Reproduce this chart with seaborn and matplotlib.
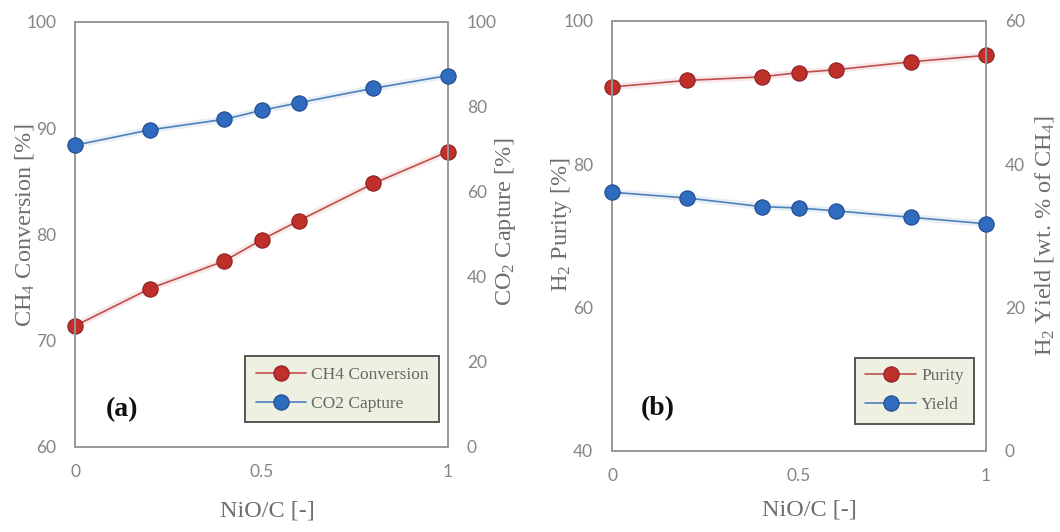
import matplotlib
matplotlib.use("Agg")
import matplotlib.pyplot as plt
import seaborn as sns
import pandas as pd

# values
nio_c = [0.0, 0.2, 0.4, 0.5, 0.6, 0.8, 1.0]
ch4_conversion = [71.4, 74.9, 77.5, 79.5, 81.3, 84.8, 87.8]
co2_capture = [71.0, 74.6, 77.1, 79.2, 81.0, 84.4, 87.4]
h2_purity = [90.8, 91.7, 92.2, 92.8, 93.2, 94.3, 95.2]
h2_yield = [36.1, 35.3, 34.1, 33.9, 33.5, 32.6, 31.7]

xticks = [0, 0.5, 1]
xtick_labels = ['0', '0.5', '1']
yticks_a_left = [60, 70, 80, 90, 100]
yticks_a_right = [0, 20, 40, 60, 80, 100]
yticks_b_left = [40, 60, 80, 100]
yticks_b_right = [0, 20, 40, 60]

df = pd.DataFrame({'x': nio_c, 'ch4': ch4_conversion, 'co2': co2_capture,
                   'purity': h2_purity, 'yield': h2_yield})

sns.set_style('white')
plt.rcParams['font.family'] = ['Liberation Serif', 'DejaVu Serif']
plt.rcParams['mathtext.default'] = 'regular'

RED_LINE, RED_FACE, RED_EDGE = '#c0504d', '#c0302a', '#8a2020'
BLUE_LINE, BLUE_FACE, BLUE_EDGE = '#4f81bd', '#2f6cc0', '#1f4a8a'
TICK_C = '#858585'
LABEL_C = '#6e6e6e'
SPINE_C = '#9a9a9a'
TICK_FONT = 'Lato'

fig = plt.figure(figsize=(10.6, 5.32), dpi=100)
ax_a = fig.add_axes([0.0708, 0.1598, 0.3519, 0.7989])
ax_b = fig.add_axes([0.5774, 0.1523, 0.3528, 0.8083])


def draw(ax, col, line_c, face_c, edge_c, label):
    # faint glow under the line, as in the source
    sns.lineplot(data=df, x='x', y=col, ax=ax, color=line_c, lw=5, alpha=0.12,
                 legend=False, clip_on=False)
    sns.lineplot(data=df, x='x', y=col, ax=ax, color=line_c, lw=1.2,
                 marker='o', markersize=11, markerfacecolor=face_c,
                 markeredgecolor=edge_c, markeredgewidth=0.8,
                 label=label, clip_on=False, zorder=5)


def style(ax, ylim, yticks):
    ax.set_xlim(0, 1)
    ax.set_ylim(*ylim)
    ax.set_yticks(yticks)
    ax.set_xticks(xticks)
    ax.set_xticklabels(xtick_labels)
    for s in ax.spines.values():
        s.set_color(SPINE_C)
        s.set_linewidth(1.3)
    ax.tick_params(length=0, labelsize=12.5, labelcolor=TICK_C)
    ax.tick_params(axis='y', pad=13.5)
    ax.tick_params(axis='x', pad=12)
    for t in ax.get_xticklabels() + ax.get_yticklabels():
        t.set_family(TICK_FONT)


def panel(ax, left_col, right_col, left_lim, right_lim, lt, rt,
          lbl_l, lbl_r, leg_l, leg_r, tag, tag_xy, leg_bbox, lab_pos):
    ax2 = ax.twinx()
    draw(ax, left_col, RED_LINE, RED_FACE, RED_EDGE, leg_l)
    draw(ax2, right_col, BLUE_LINE, BLUE_FACE, BLUE_EDGE, leg_r)
    style(ax, left_lim, lt)
    style(ax2, right_lim, rt)
    ax.set_xlabel('NiO/C [-]', fontsize=17.5, color=LABEL_C)
    ax.set_ylabel(lbl_l, fontsize=17.5, color=LABEL_C)
    ax2.set_ylabel(lbl_r, fontsize=17.5, color=LABEL_C)
    ax.xaxis.set_label_coords(*lab_pos[0])
    ax.yaxis.set_label_coords(*lab_pos[1])
    ax2.yaxis.set_label_coords(*lab_pos[2])
    ax2.set_xlabel('')
    h1, l1 = ax.get_legend_handles_labels()
    h2, l2 = ax2.get_legend_handles_labels()
    if ax.get_legend():
        ax.get_legend().remove()
    leg = ax2.legend(h1 + h2, l1 + l2, loc='lower right', bbox_to_anchor=leg_bbox,
                     borderaxespad=0, fontsize=12.5, frameon=True, fancybox=False,
                     facecolor='#eef0e2', edgecolor='#555555', framealpha=1,
                     handlelength=2.9, borderpad=0.6, labelspacing=0.75,
                     handletextpad=0.3, labelcolor='#666666')
    leg.get_frame().set_linewidth(1.4)
    ax2.text(tag_xy[0], tag_xy[1], tag, transform=ax2.transAxes, fontsize=20,
             fontweight='bold', color='#111111', va='center')


panel(ax_a, 'ch4', 'co2', (60, 100), (0, 100), yticks_a_left, yticks_a_right,
      'CH$_4$ Conversion [%]', 'CO$_2$ Capture [%]',
      'CH4 Conversion', 'CO2 Capture', '(a)', (0.082, 0.089), (0.976, 0.058),
      [(0.515, -0.125), (-0.105, 0.522), (1.12, 0.529)])
panel(ax_b, 'purity', 'yield', (40, 100), (0, 60), yticks_b_left, yticks_b_right,
      'H$_2$ Purity [%]', 'H$_2$ Yield [wt. % of CH$_4$]',
      'Purity', 'Yield', '(b)', (0.078, 0.098), (0.968, 0.063),
      [(0.527, -0.113), (-0.102, 0.526), (1.126, 0.502)])

plt.savefig('out.png', dpi=100)
